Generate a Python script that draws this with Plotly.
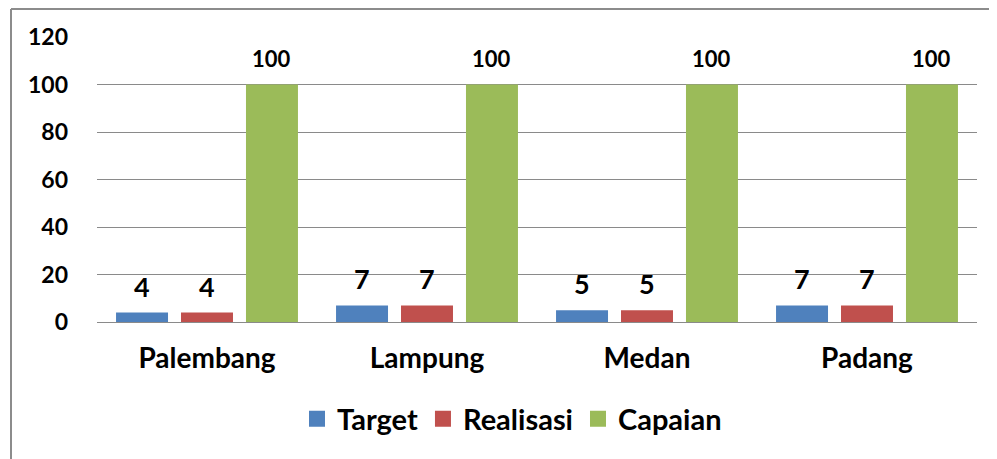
import plotly.graph_objects as go

categories = ["Palembang", "Lampung", "Medan", "Padang"]
target = [4, 7, 5, 7]
realisasi = [4, 7, 5, 7]
capaian = [100, 100, 100, 100]
series_names = ["Target", "Realisasi", "Capaian"]
colors = ["#4F81BD", "#C0504D", "#9BBB59"]
y_ticks = [0, 20, 40, 60, 80, 100, 120]

# the page places the figure at (8, 8); work in page pixels and convert
OFF = 8
W, H = 997 - OFF, 459 - OFF
ML, MT = 97 - OFF, 37 - OFF
PW, PH = 880, 285
MR = W - ML - PW
MB = H - MT - PH

font_family = "Lato, 'Open Sans', sans-serif"

fig = go.Figure()
for name, vals, col in zip(series_names, [target, realisasi, capaian], colors):
    fig.add_trace(go.Bar(name=name, x=categories, y=vals, marker_color=col,
                         marker_line_width=0, showlegend=False))
# legend entries with larger square swatches
for name, col in zip(series_names, colors):
    fig.add_trace(go.Scatter(name=name, x=[None], y=[None], mode="markers",
                             marker=dict(symbol="square", size=16, color=col),
                             showlegend=True))

# data labels as annotations above each bar
slot = PW / len(categories) * (1 - 0.114) / 3
for i, vals in enumerate([target, realisasi, capaian]):
    for c, v in zip(categories, vals):
        big = v < 50
        fig.add_annotation(x=c, y=v, xref="x", yref="y", text=str(v), showarrow=False,
                           xshift=(i - 1) * slot, yanchor="bottom",
                           yshift=8 if big else 11,
                           font=dict(family=font_family, size=27 if big else 22,
                                     color="#000000", weight="bold"))


def px_x(p):
    return (p - OFF - ML) / PW


def px_y(p):
    return (H - MB - (p - OFF)) / PH


shapes = [
    dict(type="line", xref="paper", yref="paper", x0=px_x(11), x1=px_x(11),
         y0=px_y(9), y1=px_y(470), line=dict(color="#8c8c8c", width=2)),
    dict(type="line", xref="paper", yref="paper", x0=px_x(11), x1=px_x(1010),
         y0=px_y(9), y1=px_y(9), line=dict(color="#8c8c8c", width=2)),
]

fig.update_layout(
    width=W, height=H,
    margin=dict(l=ML, r=MR, t=MT, b=MB, autoexpand=False),
    paper_bgcolor="white", plot_bgcolor="white",
    barmode="group", bargap=0.114, bargroupgap=0.2,
    font=dict(family=font_family, color="#000000"),
    showlegend=True,
    legend=dict(orientation="h", x=px_x(512), xanchor="center", y=px_y(419), yanchor="middle",
                font=dict(size=29, family=font_family, weight="bold"),
                itemwidth=30, traceorder="normal", itemclick=False),
    shapes=shapes,
    xaxis=dict(showgrid=False, showline=False, ticks="", ticklabelstandoff=17,
               tickfont=dict(size=28, family=font_family, weight="bold")),
    yaxis=dict(range=[0, 120], tickvals=y_ticks, showgrid=True, gridcolor="#8a8a8a",
               gridwidth=1, zeroline=True, zerolinecolor="#8a8a8a", zerolinewidth=1,
               showline=False, ticks="", ticklabelstandoff=28,
               tickfont=dict(size=23, family=font_family, weight="bold")),
)

fig.write_html("out.html")
